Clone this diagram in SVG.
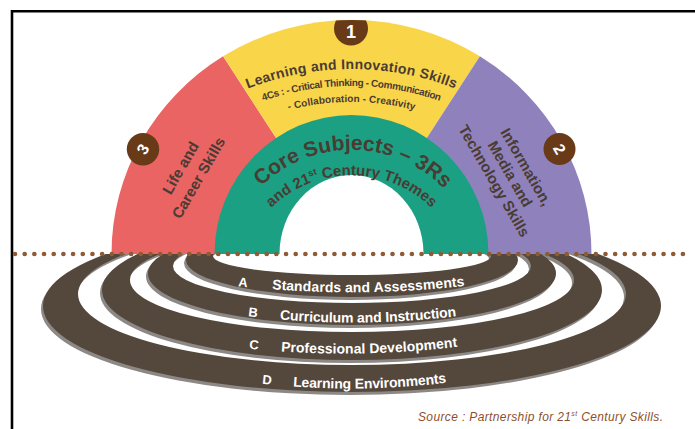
<svg xmlns="http://www.w3.org/2000/svg" width="695" height="429" viewBox="0 0 695 429">
<defs>
<style>
.t{font-family:"Liberation Sans",Arial,sans-serif;font-weight:bold;fill:#4a3b33}
.w{font-family:"Liberation Sans",Arial,sans-serif;font-weight:bold;fill:#ffffff}
.badge{fill:#693a18}
.ring{fill:#54473b;fill-rule:evenodd}
.shadow{fill:#8b8886;fill-rule:evenodd}
</style>
<clipPath id="below"><rect x="0" y="254" width="695" height="175"/></clipPath>
<clipPath id="arch"><ellipse cx="351.5" cy="254" rx="240" ry="234"/></clipPath>
<path id="hl1" d="M134.7 170.1 A283 283 0 0 1 568.3 170.1"/>
<path id="hl2" d="M147.7 181 A266 266 0 0 1 555.3 181"/>
<path id="hl3" d="M160 191.25 A250 250 0 0 1 543 191.25"/>
<path id="cl1" d="M229.3 235.5 A130 130 0 0 1 473.7 235.5"/>
<path id="cl2" d="M243.5 250.7 A115 115 0 0 1 459.5 250.7"/>
<path id="pA" d="M236 286 Q360 299 472 285"/>
<path id="pB" d="M246 316 Q354 329.25 462 315.5"/>
<path id="pC" d="M247 348.5 Q355 359.75 463 346"/>
<path id="pD" d="M260 383.5 Q356 394.25 452 382"/>
</defs>
<rect width="695" height="429" fill="#ffffff"/>
<path d="M12 429 V11.3 H695" fill="none" stroke="#000" stroke-width="2.6"/>

<g id="ring-D" clip-path="url(#below)">
<path class="shadow" transform="translate(-2,3)" d="M43 306 a309 86 0 1 0 618 0 a309 86 0 1 0 -618 0Z M78 294 a274 71 0 1 0 548 0 a274 71 0 1 0 -548 0Z"/>
<path class="ring" d="M43 306 a309 86 0 1 0 618 0 a309 86 0 1 0 -618 0Z M78 294 a274 71 0 1 0 548 0 a274 71 0 1 0 -548 0Z"/>
<text class="w" font-size="13"><textPath href="#pD" startOffset="2">D</textPath></text>
<text class="w" font-size="14"><textPath href="#pD" startOffset="33" textLength="154">Learning Environments</textPath></text>
</g>
<g id="ring-C" clip-path="url(#below)">
<path class="shadow" transform="translate(-2,3)" d="M102 290 a250 70 0 1 0 500 0 a250 70 0 1 0 -500 0Z M130 280 a222 52 0 1 0 444 0 a222 52 0 1 0 -444 0Z"/>
<path class="ring" d="M102 290 a250 70 0 1 0 500 0 a250 70 0 1 0 -500 0Z M130 280 a222 52 0 1 0 444 0 a222 52 0 1 0 -444 0Z"/>
<text class="w" font-size="13"><textPath href="#pC" startOffset="2">C</textPath></text>
<text class="w" font-size="14"><textPath href="#pC" startOffset="34" textLength="177">Professional Development</textPath></text>
</g>
<g id="ring-B" clip-path="url(#below)">
<path class="shadow" transform="translate(-2,3)" d="M148 273.4 a204 51.6 0 1 0 408 0 a204 51.6 0 1 0 -408 0Z M173 266 a179 37 0 1 0 358 0 a179 37 0 1 0 -358 0Z"/>
<path class="ring" d="M148 273.4 a204 51.6 0 1 0 408 0 a204 51.6 0 1 0 -408 0Z M173 266 a179 37 0 1 0 358 0 a179 37 0 1 0 -358 0Z"/>
<text class="w" font-size="13"><textPath href="#pB" startOffset="2">B</textPath></text>
<text class="w" font-size="14"><textPath href="#pB" startOffset="34" textLength="177">Curriculum and Instruction</textPath></text>
</g>
<g id="ring-A" clip-path="url(#below)">
<path class="shadow" transform="translate(-2,3)" d="M186 260 a166 37 0 1 0 332 0 a166 37 0 1 0 -332 0Z M213 256 a139 19 0 1 0 278 0 a139 19 0 1 0 -278 0Z"/>
<path class="ring" d="M186 260 a166 37 0 1 0 332 0 a166 37 0 1 0 -332 0Z M213 256 a139 19 0 1 0 278 0 a139 19 0 1 0 -278 0Z"/>
<text class="w" font-size="13"><textPath href="#pA" startOffset="2">A</textPath></text>
<text class="w" font-size="14"><textPath href="#pA" startOffset="36" textLength="193">Standards and Assessments</textPath></text>
</g>

<g id="life-career">
<path d="M351.5 254 L111.5 254 A240 234 0 0 1 223.1 56.3 Z" fill="#e96463"/>
<text class="t" font-size="15" text-anchor="middle" transform="translate(185,170.5) rotate(-60)">Life and</text>
<text class="t" font-size="15" text-anchor="middle" transform="translate(203,180.5) rotate(-60)">Career Skills</text>
<circle class="badge" cx="143" cy="149.2" r="16.2"/>
<text class="w" font-size="16" text-anchor="middle" transform="translate(147.8,152) rotate(-60)">3</text>
</g>
<g id="learning-innovation">
<path d="M351.5 254 L223.1 56.3 A240 234 0 0 1 479.9 56.3 Z" fill="#f9d549"/>
<circle class="badge" cx="351" cy="28.5" r="17" clip-path="url(#arch)"/>
<text class="w" font-size="18" x="351" y="38" text-anchor="middle">1</text>
<text class="t" font-size="14"><textPath href="#hl1" startOffset="50%" text-anchor="middle" textLength="212">Learning and Innovation Skills</textPath></text>
<text class="t" font-size="10"><textPath href="#hl2" startOffset="50%" text-anchor="middle" textLength="180">4Cs : - Critical Thinking - Communication</textPath></text>
<text class="t" font-size="10"><textPath href="#hl3" startOffset="50%" text-anchor="middle" textLength="127">- Collaboration - Creativity</textPath></text>
</g>
<g id="info-media-tech">
<path d="M351.5 254 L479.9 56.3 A240 234 0 0 1 591.5 254 Z" fill="#8f82bc"/>
<text class="t" font-size="15" text-anchor="middle" transform="translate(521.7,169.5) rotate(60)">Information,</text>
<text class="t" font-size="15" text-anchor="middle" transform="translate(505.7,176.5) rotate(60)">Media and</text>
<text class="t" font-size="15" text-anchor="middle" transform="translate(489.7,183.5) rotate(60)">Technology Skills</text>
<circle class="badge" cx="559.5" cy="149" r="16"/>
<text class="w" font-size="16" text-anchor="middle" transform="translate(554.7,151.8) rotate(60)">2</text>
</g>
<g id="core-subjects">
<path d="M214.5 254 A137 139 0 0 1 488.5 254 Z" fill="#1ba083"/>
<path d="M279.5 254 A72 79 0 0 1 423.5 254 Z" fill="#ffffff"/>
<text class="t" font-size="21"><textPath href="#cl1" startOffset="50.5%" text-anchor="middle" textLength="203">Core Subjects – 3Rs</textPath></text>
<text class="t" font-size="15"><textPath href="#cl2" startOffset="50%" text-anchor="middle">and 21<tspan font-size="9" dy="-6">st</tspan><tspan dy="6"> Century Themes</tspan></textPath></text>
</g>

<g id="baseline">
<line x1="15" y1="254" x2="683" y2="254" stroke="#8e5b35" stroke-width="4.6" stroke-linecap="round" stroke-dasharray="0 9.68"/>
</g>

<g id="source">
<text x="418" y="421" font-family="Liberation Sans, Arial, sans-serif" font-style="italic" font-size="12" fill="#8c4f2e" textLength="245">Source : Partnership for 21<tspan font-size="7" dy="-5">st</tspan><tspan dy="5"> Century Skills.</tspan></text>
</g>
</svg>
